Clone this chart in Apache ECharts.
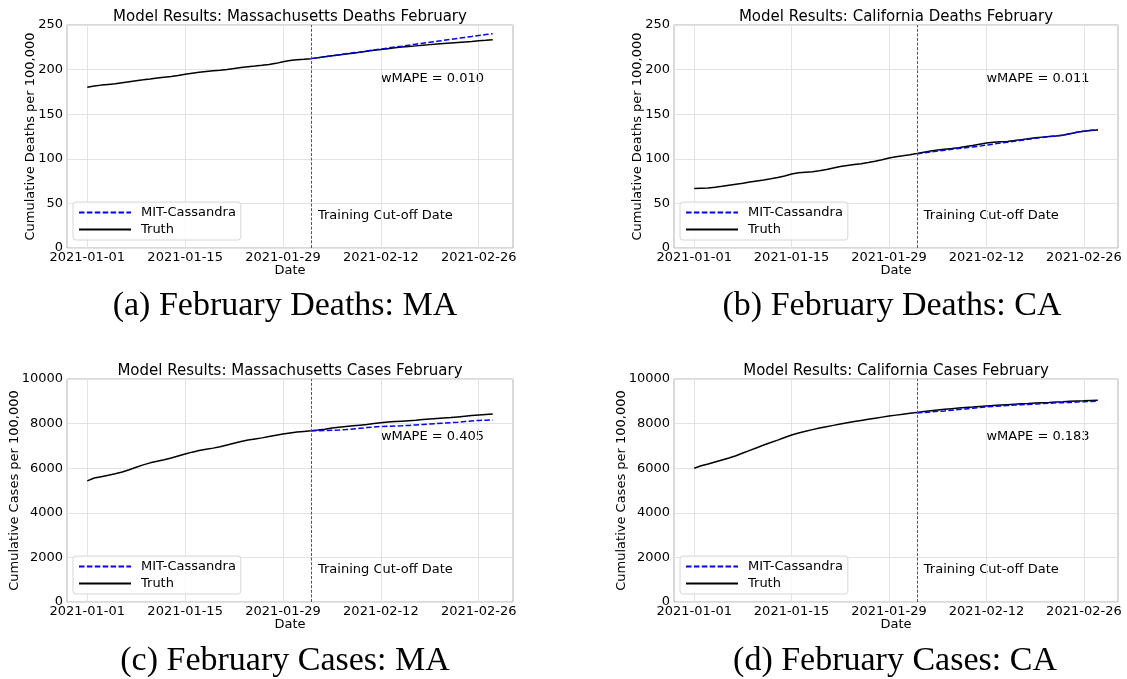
<!DOCTYPE html>
<html><head><meta charset="utf-8">
<script src="https://cdn.jsdelivr.net/npm/echarts@6/dist/echarts.min.js"></script>
<style>html,body{margin:0;padding:0;background:#fff}#c{width:1127px;height:679px}</style>
</head><body><div id="c"></div>
<script>
// ---------- data ----------
// x = days since 2021-01-01 (Jan 1 .. Feb 28)
const tickDays = [0, 14, 28, 42, 56];
const tickLabels = ['2021-01-01', '2021-01-15', '2021-01-29', '2021-02-12', '2021-02-26'];
const cutoffDay = 32; // 2021-02-02
const seriesNames = ['MIT-Cassandra', 'Truth'];

const maDeathsTruth = [180.2, 181.5, 182.6, 183.4, 184.1, 185.3, 186.5, 187.6, 188.5, 189.5, 190.6, 191.5, 192.3, 193.5, 194.8,
  196.0, 197.0, 197.8, 198.6, 199.3, 200.2, 201.2, 202.3, 203.3, 204.0, 204.8, 205.8, 207.0, 208.9,
  210.3, 211.0, 211.6, 212.3,
  213.3, 214.4, 215.5, 216.5, 217.4, 218.4, 219.4, 220.5, 221.6, 222.6,
  223.5, 224.4, 225.2, 225.9, 226.6, 227.3, 228.0, 228.6, 229.2, 229.8, 230.4, 231.0, 231.6, 232.3, 232.9, 233.6];
const maDeathsPred = [212.3, 213.3, 214.4, 215.5, 216.6, 217.7, 218.8, 219.8, 220.9, 222.0, 223.1, 224.2, 225.3, 226.3,
  227.4, 228.5, 229.6, 230.7, 231.7, 232.8, 233.9, 235.0, 236.1, 237.1, 238.2, 239.3, 240.3];

const caDeathsTruth = [66.8, 67.0, 67.2, 68.0, 69.1, 70.3, 71.5, 72.7, 74.0, 75.2, 76.3, 77.6, 79.1, 80.8, 83.0,
  84.4, 85.0, 85.4, 86.5, 88.0, 89.7, 91.3, 92.6, 93.6, 94.5, 95.8, 97.3, 99.0, 100.9,
  102.4, 103.4, 104.5, 105.9,
  107.4, 108.8, 110.0, 110.8, 111.6, 112.5, 113.7, 115.0, 116.4, 117.6,
  118.5, 119.0, 119.5, 120.4, 121.5, 122.5, 123.5, 124.3, 125.0, 125.6, 126.4, 128.0, 129.8, 131.0, 131.8, 132.3];
const caDeathsPred = [105.5, 106.6, 107.6, 108.6, 109.6, 110.6, 111.5, 112.4, 113.3, 114.2, 115.3, 116.5, 117.6, 118.6,
  119.6, 120.7, 121.8, 122.9, 123.9, 124.8, 125.6, 126.6, 128.2, 129.8, 131.0, 132.0, 132.8];

const maCasesTruth = [5434, 5560, 5620, 5680, 5750, 5830, 5930, 6040, 6150, 6240, 6310, 6380, 6460, 6550, 6640, 6720,
  6790, 6850, 6900, 6960, 7040, 7120, 7200, 7260, 7310, 7360, 7420, 7480, 7530, 7580, 7620,
  7650, 7675, 7710, 7750, 7800, 7840, 7870, 7900, 7930, 7960, 8000, 8040, 8070, 8090, 8110, 8130,
  8150, 8180, 8210, 8230, 8250, 8270, 8300, 8330, 8360, 8390, 8410, 8430];
const maCasesPred = [7675, 7680, 7690, 7700, 7710, 7730, 7760, 7790, 7820, 7850, 7870, 7880, 7890, 7900, 7920, 7940,
  7960, 7980, 8000, 8020, 8040, 8060, 8090, 8120, 8140, 8150, 8160];

const caCasesTruth = [6000, 6110, 6190, 6280, 6370, 6460, 6560, 6680, 6800, 6920, 7040, 7150, 7260, 7380, 7490, 7580,
  7660, 7730, 7800, 7860, 7920, 7980, 8040, 8090, 8140, 8190, 8240, 8290, 8340, 8380, 8420,
  8460, 8500, 8540, 8580, 8610, 8640, 8670, 8700, 8720, 8740, 8770, 8790, 8810, 8830, 8850, 8870,
  8890, 8900, 8920, 8940, 8950, 8970, 8980, 9000, 9010, 9020, 9040, 9050];
const caCasesPred = [8480, 8500, 8520, 8550, 8570, 8600, 8630, 8660, 8690, 8720, 8750, 8770, 8790, 8810, 8830, 8850,
  8860, 8880, 8900, 8910, 8930, 8940, 8950, 8970, 8980, 8990, 9010];

const titles = ['Model Results: Massachusetts Deaths February', 'Model Results: California Deaths February',
  'Model Results: Massachusetts Cases February', 'Model Results: California Cases February'];
const captions = ['(a) February Deaths: MA', '(b) February Deaths: CA', '(c) February Cases: MA', '(d) February Cases: CA'];
const wmapeLabels = ['wMAPE = 0.010', 'wMAPE = 0.011', 'wMAPE = 0.405', 'wMAPE = 0.183'];
const yNames = ['Cumulative Deaths per 100,000', 'Cumulative Deaths per 100,000', 'Cumulative Cases per 100,000', 'Cumulative Cases per 100,000'];
const yMax = [250, 250, 10000, 10000];
const yStep = [50, 50, 2000, 2000];
const truthSets = [maDeathsTruth, caDeathsTruth, maCasesTruth, caCasesTruth];
const predSets = [maDeathsPred, caDeathsPred, maCasesPred, caCasesPred];

// ---------- layout ----------
const layout = [
  {left: 67, top: 25, width: 446, height: 223, capX: 285, capY: 306, yGap: 30, wY: 54},
  {left: 674, top: 25, width: 444, height: 223, capX: 892, capY: 306, yGap: 30, wY: 54},
  {left: 67, top: 379, width: 446, height: 223, capX: 285, capY: 661, yGap: 46, wY: 58},
  {left: 674, top: 379, width: 444, height: 223, capX: 895, capY: 661, yGap: 46, wY: 58}
];
const FONT = 'DejaVu Sans';

const option = {
  animation: false,
  textStyle: {fontFamily: FONT},
  title: [], legend: [], grid: [], xAxis: [], yAxis: [], series: [], graphic: []
};

layout.forEach((L, i) => {
  option.grid.push({left: L.left, top: L.top, width: L.width, height: L.height, show: true,
    borderColor: '#b3b3b3', borderWidth: 1, backgroundColor: 'transparent', containLabel: false});
  option.title.push({text: titles[i], left: L.left + L.width / 2, top: L.top - 15, textAlign: 'center', padding: 0,
    textStyle: {fontFamily: FONT, fontSize: 15, fontWeight: 'normal', color: '#000'}});
  option.xAxis.push({
    gridIndex: i, type: 'value', min: -2.9, max: 60.9,
    axisLine: {show: false},
    axisTick: {show: false, customValues: tickDays},
    axisLabel: {customValues: tickDays, fontSize: 13, color: '#000', margin: 3,
      formatter: v => tickLabels[tickDays.indexOf(v)] || ''},
    splitLine: {show: true, lineStyle: {color: '#e3e3e3', width: 1}},
    name: 'Date', nameLocation: 'middle', nameGap: 16, nameMoveOverlap: false,
    nameTextStyle: {fontSize: 13, color: '#000'}
  });
  option.yAxis.push({
    gridIndex: i, type: 'value', min: 0, max: yMax[i], interval: yStep[i],
    axisLine: {show: false}, axisTick: {show: false},
    axisLabel: {fontSize: 13, color: '#000', margin: 4, formatter: v => String(v)},
    splitLine: {show: true, lineStyle: {color: '#e3e3e3', width: 1}},
    name: yNames[i], nameLocation: 'middle', nameGap: L.yGap, nameRotate: 90, nameMoveOverlap: false,
    nameTextStyle: {fontSize: 13, color: '#000'}
  });
  option.series.push({
    name: 'Truth', type: 'line', xAxisIndex: i, yAxisIndex: i, showSymbol: false, symbol: 'none',
    data: truthSets[i].map((v, d) => [d, v]),
    lineStyle: {color: '#000', width: 1.5}, itemStyle: {color: '#000'}, z: 2,
    markLine: {silent: true, symbol: ['none', 'none'], label: {show: false},
      lineStyle: {color: '#555', type: [3, 1.6], width: 1},
      data: [{xAxis: cutoffDay}]}
  });
  option.series.push({
    name: 'MIT-Cassandra', type: 'line', xAxisIndex: i, yAxisIndex: i, showSymbol: false, symbol: 'none',
    data: predSets[i].map((v, d) => [cutoffDay + d, v]),
    lineStyle: {color: '#0000ff', width: 1.5, type: [5.5, 2.4]}, itemStyle: {color: '#0000ff'}, z: 3
  });
  option.legend.push({
    data: seriesNames, orient: 'vertical', left: L.left + 6, top: L.top + L.height - 46,
    itemWidth: 52, itemHeight: 14, itemGap: 4, padding: [4, 5, 4, 5],
    itemStyle: {opacity: 0},
    backgroundColor: 'rgba(255,255,255,0.8)', borderColor: '#d6d6d6', borderWidth: 1, borderRadius: 3,
    textStyle: {fontSize: 13, color: '#000', padding: [0, 0, 0, 5]}, selectedMode: false
  });
  // annotations
  const xPer = L.width / 63.8;
  option.graphic.push({type: 'text', x: L.left + (42 + 2.9) * xPer, y: L.top + L.wY,
    style: {text: wmapeLabels[i], font: '13px "DejaVu Sans"', fill: '#000', verticalAlign: 'middle'}});
  option.graphic.push({type: 'text', x: L.left + (cutoffDay + 1 + 2.9) * xPer, y: L.top + 191,
    style: {text: 'Training Cut-off Date', font: '13px "DejaVu Sans"', fill: '#000', verticalAlign: 'middle'}});
  option.graphic.push({type: 'text', x: L.capX, y: L.capY,
    style: {text: captions[i], font: '34px "Liberation Serif"', fill: '#000', align: 'center', verticalAlign: 'middle'}});
});

const chart = echarts.init(document.getElementById('c'), null, {renderer: 'canvas'});
chart.setOption(option);
</script></body></html>
